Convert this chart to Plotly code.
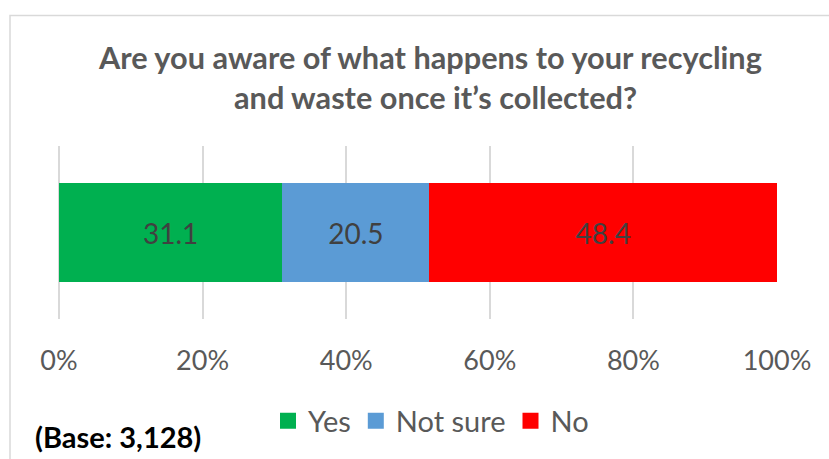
import plotly.graph_objects as go

title_lines = ["Are you aware of what happens to your recycling",
               "and waste once it\u2019s collected?"]
category = ["All"]
series_names = ["Yes", "Not sure", "No"]
series_values = [31.1, 20.5, 48.4]
series_colors = ["#00B050", "#5B9BD5", "#FF0000"]
tick_values = [0, 20, 40, 60, 80, 100]
tick_labels = ["0%", "20%", "40%", "60%", "80%", "100%"]
base_note = "(Base: 3,128)"

W, H = 829, 459
L, R, T, B = 59, 52, 146, 138
pw, ph = W - L - R, H - T - B

def px_x(x):
    return (x - L) / pw

def px_y(y):
    return (H - B - y) / ph

fig = go.Figure()
for name, val, col in zip(series_names, series_values, series_colors):
    fig.add_trace(go.Bar(
        y=category, x=[val], name=name, orientation="h",
        marker=dict(color=col, line=dict(width=0)),
        width=0.571,
        text=[f"{val:.1f}"], textposition="inside", insidetextanchor="middle",
        textfont=dict(family="Lato", size=28, color="#404040"),
        constraintext="none",
        showlegend=False, hoverinfo="skip",
    ))
# legend proxies
for name, col in zip(series_names, series_colors):
    fig.add_trace(go.Scatter(
        x=[None], y=[None], mode="markers", name=name,
        marker=dict(symbol="square", size=17, color=col),
    ))

fig.update_layout(
    width=W, height=H,
    margin=dict(l=L, r=R, t=T, b=B, pad=0),
    barmode="stack",
    plot_bgcolor="white", paper_bgcolor="white",
    font=dict(family="Lato", color="#595959"),
    xaxis=dict(range=[0, 100], tickvals=tick_values, ticktext=tick_labels,
               tickmode="array",
               showgrid=True, gridcolor="#d9d9d9", gridwidth=1.5,
               zeroline=True, zerolinecolor="#d9d9d9", zerolinewidth=1.5,
               showline=False, ticks="", ticklabelstandoff=23,
               tickfont=dict(family="Lato", size=27, color="#595959"),
               fixedrange=True),
    yaxis=dict(range=[-0.5, 0.5], visible=False, fixedrange=True),
    legend=dict(orientation="h", x=px_x(431), y=px_y(424),
                xanchor="center", yanchor="middle", traceorder="normal",
                font=dict(family="Lato", size=29, color="#595959"),
                itemsizing="trace", bgcolor="rgba(0,0,0,0)",
                itemclick=False, itemdoubleclick=False),
    showlegend=True,
)

fig.add_annotation(text=title_lines[0], xref="paper", yref="paper",
                   x=px_x(430), y=px_y(56), showarrow=False,
                   xanchor="center", yanchor="middle",
                   font=dict(family="Lato", size=30.7, color="#595959", weight="bold"))
fig.add_annotation(text=title_lines[1], xref="paper", yref="paper",
                   x=px_x(435), y=px_y(97), showarrow=False,
                   xanchor="center", yanchor="middle",
                   font=dict(family="Lato", size=30.7, color="#595959", weight="bold"))
fig.add_annotation(text=base_note, xref="paper", yref="paper",
                   x=px_x(33), y=px_y(440), showarrow=False,
                   xanchor="left", yanchor="middle",
                   font=dict(family="Lato", size=29, color="#000000", weight="bold"))

# chart-area border
fig.add_shape(type="rect", xref="paper", yref="paper",
              x0=px_x(10), x1=px_x(W + 20), y0=px_y(H + 20), y1=px_y(14),
              line=dict(color="#d9d9d9", width=1.5), fillcolor="rgba(0,0,0,0)",
              layer="below")

fig.write_html("out.html", config={"displayModeBar": False},
               post_script="document.body.style.margin='0';")
